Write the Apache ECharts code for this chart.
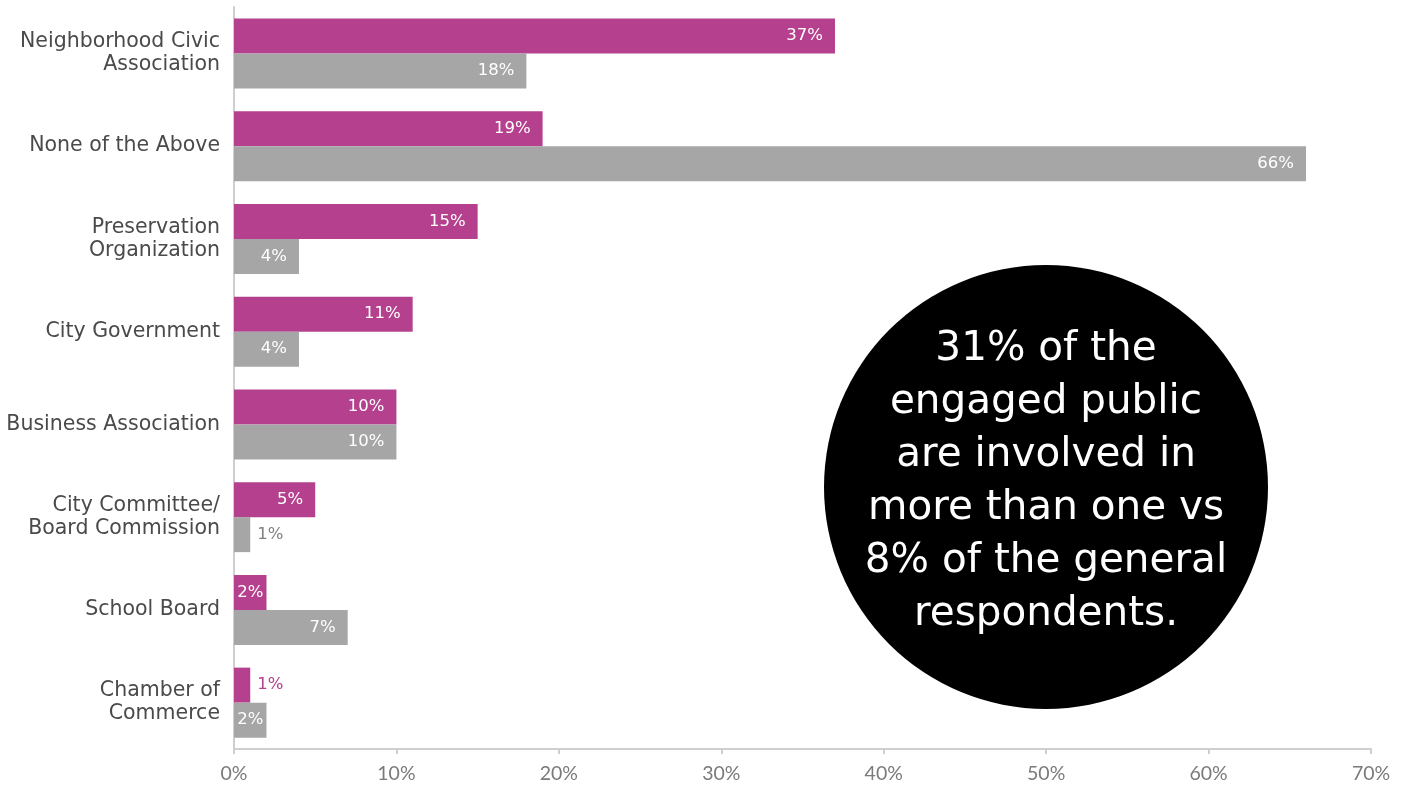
<!DOCTYPE html>
<html>
<head>
<meta charset="utf-8">
<script src="https://cdn.jsdelivr.net/npm/echarts@6/dist/echarts.min.js"></script>
<style>
  html, body { margin: 0; padding: 0; background: #ffffff; }
  #chart { width: 1403px; height: 788px; }
</style>
</head>
<body>
<div id="chart"></div>
<script>
// Civic involvement: engaged public vs general respondents
const categories = [
  'Neighborhood Civic\nAssociation',
  'None of the Above',
  'Preservation\nOrganization',
  'City Government',
  'Business Association',
  'City Committee/\nBoard Commission',
  'School Board',
  'Chamber of\nCommerce'
];
const engagedPublic = [37, 19, 15, 11, 10, 5, 2, 1];
const generalRespondents = [18, 66, 4, 4, 10, 1, 7, 2];
const xTicks = [0, 10, 20, 30, 40, 50, 60, 70];
const calloutText = '31% of the\nengaged public\nare involved in\nmore than one vs\n8% of the general\nrespondents.';

const PINK = '#B5408E';
const GREY = '#A6A6A6';
const WIDE = '"DejaVu Sans", sans-serif';
const TICK = 'Lato, "Noto Sans", sans-serif';

// Narrow bars get their value label centred or placed just outside the bar
function barItems(values, color) {
  return values.map(v => {
    if (v <= 1) {
      return { value: v, label: { position: 'right', color: color, distance: 7 } };
    }
    if (v <= 2) {
      return { value: v, label: { position: 'inside' } };
    }
    return { value: v };
  });
}

const barLabel = {
  show: true,
  position: 'insideRight',
  distance: 12,
  color: '#ffffff',
  fontFamily: WIDE,
  fontSize: 16.5,
  formatter: p => p.value + '%'
};

const chart = echarts.init(document.getElementById('chart'), null, { renderer: 'canvas' });
chart.setOption({
  animation: false,
  backgroundColor: '#ffffff',
  grid: { left: 234, right: 32, top: 7, bottom: 39, containLabel: false, outerBoundsMode: 'none' },
  xAxis: {
    type: 'value',
    min: xTicks[0],
    max: xTicks[xTicks.length - 1],
    interval: 10,
    axisLine: { show: true, lineStyle: { color: '#cfcfcf', width: 2 } },
    axisTick: { show: true, length: 5, lineStyle: { color: '#cfcfcf', width: 2 } },
    splitLine: { show: false },
    axisLabel: {
      margin: 15,
      color: '#7a7a7a',
      fontFamily: TICK,
      fontSize: 19.5,
      formatter: v => v + '%'
    }
  },
  yAxis: {
    type: 'category',
    data: categories,
    inverse: true,
    axisLine: { show: true, lineStyle: { color: '#cfcfcf', width: 2 } },
    axisTick: { show: false },
    axisLabel: {
      margin: 14,
      color: '#4a4a4a',
      fontFamily: WIDE,
      fontSize: 20.5,
      lineHeight: 23,
      align: 'right'
    }
  },
  series: [
    {
      name: 'Engaged public',
      type: 'bar',
      data: barItems(engagedPublic, PINK),
      barWidth: 35,
      barGap: '0%',
      itemStyle: { color: PINK },
      label: barLabel
    },
    {
      name: 'General respondents',
      type: 'bar',
      data: barItems(generalRespondents, '#808080'),
      barWidth: 35,
      barGap: '0%',
      itemStyle: { color: GREY },
      label: barLabel
    }
  ],
  graphic: [
    {
      type: 'circle',
      shape: { cx: 1046, cy: 487, r: 222 },
      style: { fill: '#000000' },
      z: 10
    },
    {
      type: 'text',
      x: 1046,
      y: 482,
      z: 11,
      style: {
        text: calloutText,
        fill: '#ffffff',
        font: '40.5px ' + WIDE,
        lineHeight: 53,
        align: 'center',
        verticalAlign: 'middle'
      }
    }
  ]
});
</script>
</body>
</html>
